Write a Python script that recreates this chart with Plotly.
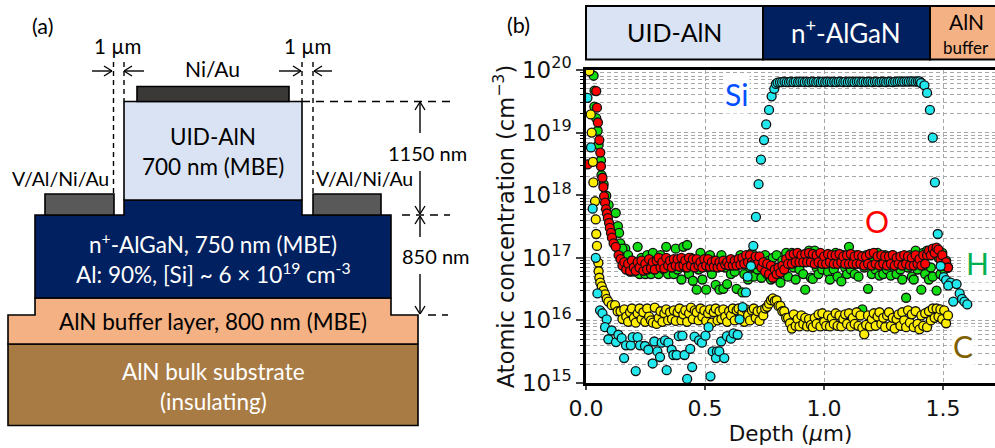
import plotly.graph_objects as go

# ---------- Data (depth in um, concentration in cm^-3) ----------
BAND_DEPTH = [
    0.145,0.153,0.161,0.169,0.177,0.185,0.193,0.201,0.209,0.217,
    0.225,0.233,0.241,0.249,0.257,0.265,0.273,0.281,0.289,0.297,
    0.305,0.313,0.321,0.329,0.337,0.345,0.353,0.361,0.369,0.377,
    0.385,0.393,0.401,0.409,0.417,0.425,0.433,0.441,0.449,0.457,
    0.465,0.473,0.481,0.489,0.497,0.505,0.513,0.521,0.529,0.537,
    0.545,0.553,0.561,0.569,0.577,0.585,0.593,0.601,0.609,0.617,
    0.625,0.633,0.641,0.649,0.657,0.665,0.673,0.681,0.689,0.697,
    0.705,0.713,0.721,0.729,0.737,0.745,0.753,0.761,0.769,0.777,
    0.785,0.793,0.801,0.809,0.817,0.825,0.833,0.841,0.849,0.857,
    0.865,0.873,0.881,0.889,0.897,0.905,0.913,0.921,0.929,0.937,
    0.945,0.953,0.961,0.969,0.977,0.985,0.993,1.001,1.009,1.017,
    1.025,1.033,1.041,1.049,1.057,1.065,1.073,1.081,1.089,1.097,
    1.105,1.113,1.121,1.129,1.137,1.145,1.153,1.161,1.169,1.177,
    1.185,1.193,1.201,1.209,1.217,1.225,1.233,1.241,1.249,1.257,
    1.265,1.273,1.281,1.289,1.297,1.305,1.313,1.321,1.329,1.337,
    1.345,1.353,1.361,1.369,1.377,1.385,1.393,1.401,1.409,1.417,
    1.425,1.433,1.441,1.449,1.457,1.465,1.473,1.481,1.489,1.497,
    1.505,1.513,1.521,
]

O_EARLY_DEPTH = [0.007,0.043,0.046,0.050,0.056,0.060,0.063,0.069,0.073,0.076,0.080,0.084,0.088,0.092,0.097,0.100,0.105,0.109,0.116,0.125,0.137]
O_EARLY = [3.1e18,4.6e19,2.5e19,1.45e19,7.6e18,4.8e18,2.9e18,1.9e18,1.35e18,9.6e17,7.6e17,6e17,5.1e17,4.3e17,3.6e17,3e17,2.5e17,2.1e17,1.7e17,1.5e17,1.1e17]
O_BAND_E16 = [
    9.5,7.5,8.5,6.5,8,6.2,9,7,6.2,8.5,
    7,9,6.2,8,6.5,9.5,6.8,8.5,6.5,9,
    10,7,8.5,6.8,10,7.5,9,7,9.5,7.5,
    9.5,7.2,10,7.5,9,7,10,7.5,9.5,7,
    9.5,7.5,8.5,7,9.5,7.5,9.5,7.2,8.5,7.2,
    9,7,8.5,7.2,9,7.8,8.5,7.5,9.5,7.5,
    9,7.5,9.5,7.8,10,8,11,8.5,11,8.5,
    8,10.5,8,10.5,7,8.5,6,8,5.5,7.5,
    4.8,6.5,5.5,7,5.8,7.5,6.5,9.5,8,11,
    8,11.5,8.5,12,8.5,11,8.5,11.5,8.5,12,
    8.5,11.5,8,11,8.5,12,8,10.5,8,11.5,
    8.5,11,8,11,8,11.5,8.5,10.5,8,11,
    8,11.5,8,10.5,8,11,8,10.5,7.5,10.5,
    8,11.5,7.5,12,8,10.5,7.5,11,8,10.5,
    7.5,10.5,8,11,7.5,10,8,10.5,7.5,11,
    8,10.5,7.5,10,7.5,11,8,9.5,7.5,11,
    8,11,13,11,14,12,14.5,13.5,9.5,11,
    7.5,8.5,7,
]

H_EARLY_DEPTH = [0.032,0.036,0.035,0.043,0.049,0.053,0.063,0.065,0.074,0.085,0.095,0.125,0.134,0.139,0.144,0.165,0.172]
H_EARLY = [8.1e19,4.7e19,2.6e19,1.7e19,1.07e19,6.4e18,3.6e18,2.1e18,1.5e18,9.8e17,7e17,5.2e17,3.2e17,2.5e17,1.7e17,1.4e17,1.05e17]
H_BAND_E16 = [
    12,14,9,7,11,6,9,6,8,15,
    5.5,10,7,5.5,11,8,5.5,12,6.5,9,
    5.5,11,7,6.5,15,5.5,9,8,5.5,14,
    6.5,9,4.5,15,7,16,5.5,10,4.3,8,
    3.1,6.5,12,4.5,9,3.1,7,11,5.5,9,
    3.7,8,3.1,11,3.2,7,3.8,9,5.5,8,
    6,3.2,8,11,2.8,5.5,9,4.5,7,12,
    5,9,6.5,10,4.8,7,11,5.5,9,4.5,
    10,7,11,5.5,4,9,6,12,5,9,
    12,7,4.5,10,6.5,11,5.5,3.1,9,13,
    4.8,4.6,13,7,5.5,10,6.5,11,8,6,
    4.5,10,6.5,12,5,9,4.2,11,7,5.5,
    15,6.5,10,5.5,11,5,9,1.5,7,11,
    3.2,8,5.5,10,6.5,12,5.2,9,5.5,11,
    6.5,9,5.2,11,7,5.5,10,6.5,4.5,9,
    2.3,7,11,5,4.5,13,6.5,9,3.1,12,
    5.5,13,4.5,7,5,13,3,10,5.5,12,
    6.5,9,7,
]

C_EARLY_DEPTH = [0.014,0.020,0.024,0.029,0.031,0.038,0.041,0.043,0.046,0.052,0.053,0.056,0.060,0.066,0.073,0.080,0.087,0.094,0.108,0.122,0.133]
C_EARLY = [9.6e19,1.95e19,1e19,3.4e18,1.6e18,8e17,4.1e17,2.4e17,1.55e17,8.3e16,6.1e16,4.8e16,4e16,3.5e16,3e16,2.6e16,2.2e16,2e16,1.75e16,1.75e16,1.4e16]
C_BAND_E16 = [
    1.4,1.05,1.5,1.15,0.95,1.35,1.55,1.1,0.92,1.3,
    1.55,1.05,1.35,0.95,1.55,1.15,1.0,0.92,1.6,0.88,
    1.1,1.4,0.95,1.3,1.5,1.0,1.35,1.05,1.45,0.98,
    1.35,1.55,1.0,1.25,1.45,0.95,1.3,1.6,1.05,1.45,
    1.35,1.0,1.55,1.15,1.45,0.98,1.3,1.5,0.92,1.35,
    1.55,1.0,1.4,1.05,1.5,1.15,0.95,1.4,1.2,1.55,
    1.0,1.45,1.55,1.1,1.35,0.95,1.5,1.2,1.0,1.45,
    1.55,1.1,1.4,0.98,1.45,1.2,1.55,1.65,1.85,2.1,
    2.25,2.05,2.1,1.7,1.7,1.4,1.4,1.1,1.1,0.9,
    0.74,1.25,0.82,1.05,0.8,1.2,0.88,1.1,0.8,1.05,
    0.85,0.78,1.1,0.88,1.25,0.8,1.3,0.95,0.82,1.2,
    0.8,1.1,0.88,1.3,0.82,1.2,0.8,1.05,1.25,0.88,
    1.3,0.8,1.1,0.88,1.35,0.82,1.2,0.76,0.6,0.85,
    1.2,0.8,1.05,1.3,0.82,1.15,1.35,0.88,1.1,0.78,
    1.2,1.35,0.82,1.1,0.74,1.05,1.25,0.82,1.35,1.0,
    0.78,1.45,0.92,1.25,0.78,1.4,0.88,0.72,1.2,0.82,
    1.3,0.78,1.4,1.0,1.55,1.1,1.55,1.15,1.5,1.05,
    1.45,0.9,1.2,
]

SI_DEPTH = [
    0.006,0.021,0.028,0.041,0.048,0.059,0.069,0.087,0.080,0.108,0.094,0.126,0.136,0.150,0.160,0.168,0.188,0.196,0.217,0.209,
    0.227,0.248,0.262,0.280,0.287,0.300,0.311,0.318,0.332,0.339,0.346,0.360,0.367,0.381,0.390,0.405,0.414,0.438,0.425,0.446,
    0.456,0.475,0.487,0.502,0.515,0.523,0.532,0.550,0.546,0.560,0.568,0.581,0.592,0.609,0.620,0.637,0.645,0.658,0.672,0.679,
    0.693,0.703,0.714,0.725,0.735,0.748,0.757,0.769,0.780,0.791,0.798,
    0.805,0.815,0.824,0.834,0.843,0.853,0.862,0.872,0.881,0.891,0.900,0.910,0.919,0.929,0.938,0.948,0.957,0.967,0.976,0.986,
    0.995,1.005,1.014,1.024,1.033,1.043,1.052,1.062,1.071,1.081,1.090,1.100,1.109,1.119,1.128,1.138,1.147,1.157,1.166,1.176,
    1.185,1.195,1.204,1.214,1.223,1.233,1.242,1.252,1.261,1.271,1.280,1.290,1.299,1.309,1.318,1.328,1.337,1.347,1.356,1.366,
    1.375,1.385,1.394,1.402,1.408,1.422,1.433,1.445,1.457,1.466,1.478,1.490,1.503,1.513,1.532,1.522,1.557,1.570,1.543,1.580,1.590,1.602,
]
SI_CONC = [
    3.6e19,5.8e18,6.1e17,1e17,2.7e16,1.45e16,1.3e16,1.04e16,7.8e15,6.9e15,5e15,4.5e15,5.9e15,5.2e15,2.5e15,4e15,4e15,5.4e15,5.4e15,1.55e15,
    4e15,3.9e15,3.4e15,2.05e15,4.6e15,3.2e15,2.6e15,4.4e15,4.8e15,1.6e15,4.4e15,3.4e15,2.8e15,2.8e15,5.6e15,5.7e15,2.8e15,3.5e15,1.16e15,1.8e15,
    5.5e15,4.8e15,4.4e15,5.7e15,7.8e15,1.28e15,3.2e15,3.2e15,2.5e15,3.2e15,4.6e15,2.5e15,5.6e15,5.1e15,6.2e15,5.9e15,1.04e16,1.63e16,2.8e16,5e16,
    7.4e16,1.55e17,4.5e17,1.5e18,3.7e18,7.6e18,1.35e19,2.3e19,3.8e19,5e19,6e19,
    6.3e19,6.4e19,6.4e19,6.5e19,6.4e19,6.4e19,6.5e19,6.4e19,6.5e19,6.4e19,6.5e19,6.5e19,6.4e19,6.5e19,6.4e19,6.5e19,6.5e19,6.4e19,6.5e19,6.4e19,
    6.5e19,6.4e19,6.5e19,6.5e19,6.4e19,6.5e19,6.4e19,6.5e19,6.5e19,6.4e19,6.5e19,6.4e19,6.5e19,6.5e19,6.4e19,6.5e19,6.5e19,6.4e19,6.5e19,6.4e19,
    6.5e19,6.5e19,6.4e19,6.5e19,6.5e19,6.4e19,6.5e19,6.5e19,6.4e19,6.5e19,6.5e19,6.4e19,6.5e19,6.5e19,6.6e19,6.5e19,6.5e19,6.6e19,6.5e19,6.6e19,
    6.6e19,6.5e19,6.6e19,6.6e19,6.2e19,5.7e19,4.3e19,2.3e19,8.3e18,1.6e18,2.4e17,7.4e16,4.9e16,4.4e16,4e16,3.6e16,3.8e16,2.7e16,2e16,2.2e16,2e16,1.8e16,
]

Y_TICKS = [1e15,1e16,1e17,1e18,1e19,1e20]
Y_TICK_LABELS = ["10<sup>15</sup>","10<sup>16</sup>","10<sup>17</sup>","10<sup>18</sup>","10<sup>19</sup>","10<sup>20</sup>"]
Y_MINOR = [m*d for d in [1e15,1e16,1e17,1e18,1e19] for m in [2,3,4,5,6,7,8,9]]
X_TICKS = [0.0,0.5,1.0,1.5]
X_TICK_LABELS = ["0.0","0.5","1.0","1.5"]

W, H = 995, 448
AX_L, AX_R, AX_T, AX_B = 586, 995, 70, 383
PX_PER_UM = 238.0

DIAG_FONT = "Lato"
CHART_FONT = "DejaVu Sans"

def px(x): return x / W
def py(y): return 1 - y / H

fig = go.Figure()

def add_series(name, xs, ys, color):
    fig.add_trace(go.Scatter(x=xs, y=ys, mode="markers", name=name, showlegend=False,
                             marker=dict(size=9, color=color, line=dict(color="#111111", width=1.3)),
                             cliponaxis=True))

add_series("H", H_EARLY_DEPTH + BAND_DEPTH, H_EARLY + [v*1e16 for v in H_BAND_E16], "#12dc12")
add_series("O", O_EARLY_DEPTH + BAND_DEPTH, O_EARLY + [v*1e16 for v in O_BAND_E16], "#ff0000")
add_series("C", C_EARLY_DEPTH + BAND_DEPTH, C_EARLY + [v*1e16 for v in C_BAND_E16], "#ffee00")
add_series("Si", SI_DEPTH, SI_CONC, "#22e8ee")

shapes = []
annotations = []

def rect(x0, y0, x1, y1, fill, lw=1.6):
    shapes.append(dict(type="rect", xref="paper", yref="paper", x0=px(x0), x1=px(x1), y0=py(y0), y1=py(y1),
                       fillcolor=fill, line=dict(color="black", width=lw), layer="above"))

def poly(pts, fill, lw=1.6):
    path = "M " + " L ".join(f"{px(a):.5f},{py(b):.5f}" for a, b in pts) + " Z"
    shapes.append(dict(type="path", xref="paper", yref="paper", path=path, fillcolor=fill,
                       line=dict(color="black", width=lw), layer="above"))

def line(x0, y0, x1, y1, dash="solid", lw=1.4):
    shapes.append(dict(type="line", xref="paper", yref="paper", x0=px(x0), x1=px(x1), y0=py(y0), y1=py(y1),
                       line=dict(color="black", width=lw, dash=dash), layer="above"))

def arrow(x0, y0, x1, y1):
    line(x0, y0, x1, y1)
    if x0 == x1:
        s = 1 if y1 > y0 else -1
        line(x1 - 5, y1 - s*8, x1, y1)
        line(x1 + 5, y1 - s*8, x1, y1)
    else:
        s = 1 if x1 > x0 else -1
        line(x1 - s*8, y1 - 5, x1, y1)
        line(x1 - s*8, y1 + 5, x1, y1)

def text(x, y, s, size=17, color="black", family=DIAG_FONT, bg=None):
    a = dict(xref="paper", yref="paper", x=px(x), y=py(y), text=s, showarrow=False, xanchor="center",
             yanchor="middle", font=dict(size=size, color=color, family=family))
    if bg:
        a["bgcolor"] = bg
    annotations.append(a)

# panel (a): layer stack
rect(8, 344, 418, 425.5, "#a97b44")
poly([(35,298),(391,298),(391,315),(418,315),(418,344),(8,344),(8,315),(35,315)], "#f4b183")
poly([(124,200),(302,200),(302,215),(391,215),(391,298),(35,298),(35,215),(124,215)], "#002060")
rect(124, 101.5, 302, 200, "#dae3f3")
rect(137, 86.5, 289, 101.5, "#3b3838")
rect(45, 194, 114, 215, "#595959")
rect(313, 194, 381, 215, "#595959")

for x_, y1_ in [(113.5,194),(124,101),(302,101),(313,194)]:
    line(x_, 62, x_, y1_, dash="5px,4px")
line(302, 101.5, 453, 101.5, dash="8px,6px")
line(402, 215, 450, 215, dash="8px,6px")
line(428, 315, 448, 315, dash="8px,6px")

arrow(92, 71, 112, 71); arrow(144, 71, 124, 71)
arrow(279, 71, 301, 71); arrow(332, 71, 314, 71)
arrow(420, 133, 420, 102); arrow(420, 171, 420, 214)
arrow(420, 237, 420, 216); arrow(420, 274, 420, 314)

text(42, 26, "(a)", 21.5)
text(117, 46, "1 µm", 20.5); text(307, 46, "1 µm", 20.5)
text(212, 68, "Ni/Au", 21)
text(213, 136, "UID-AlN", 22.5); text(213, 166, "700 nm (MBE)", 22.5)
text(427, 153, "1150 nm", 20)
text(60, 178, "V/Al/Ni/Au", 19.5); text(364, 178, "V/Al/Ni/Au", 19.5)
text(436, 256, "850 nm", 20)
text(213, 243, "n<sup>+</sup>-AlGaN, 750 nm (MBE)", 22.5, "white")
text(213, 273, "Al: 90%, [Si] ~ 6 × 10<sup>19</sup> cm<sup>-3</sup>", 22.5, "white")
text(213, 321, "AlN buffer layer, 800 nm (MBE)", 22.5)
text(213, 371, "AlN bulk substrate", 22.5, "white")
text(213, 401, "(insulating)", 22.5, "white")

# panel (b): layer strip and labels
rect(586, 6, 763, 59.5, "#dae3f3", 2)
rect(763, 6, 930, 59.5, "#002060", 2)
rect(930, 6, 997, 59.5, "#f4b183", 2)
text(518, 25, "(b)", 21.5)
text(674, 32, "UID-AlN", 25)
text(846, 32, "n<sup>+</sup>-AlGaN", 26, "white")
text(966, 21, "AlN", 21)
text(966, 48, "buffer", 17)
text(736, 94, "Si", 30, "#0050ff", bg="white")
text(877, 221, "O", 30, "#ff0000", bg="white")
text(977, 263, "H", 30, "#00b050", bg="white")
text(963, 346, "C", 30, "#7f6000", bg="white")

GRID = "#a8a8a8"
fig.update_layout(
    width=W, height=H, margin=dict(l=0, r=0, t=0, b=0), autosize=False,
    paper_bgcolor="white", plot_bgcolor="white", showlegend=False,
    shapes=shapes, annotations=annotations,
    font=dict(family=CHART_FONT, size=20, color="#111111"),
    xaxis=dict(domain=[px(AX_L), 1], range=[0, (AX_R - AX_L) / PX_PER_UM], tickmode="array",
               tickvals=X_TICKS, ticktext=X_TICK_LABELS, ticks="outside", ticklen=4, tickwidth=2,
               showline=True, linecolor="black", linewidth=2.5, mirror=True, showgrid=True,
               gridcolor=GRID, griddash="4px,3px", gridwidth=1.2, zeroline=False, automargin=False,
               title=dict(text="Depth (<i>µ</i>m)", font=dict(size=21.5), standoff=2),
               tickfont=dict(size=22)),
    yaxis=dict(domain=[py(AX_B), py(AX_T)], type="log", range=[15, 20], tickmode="array",
               tickvals=Y_TICKS, ticktext=Y_TICK_LABELS, ticks="outside", ticklen=7, tickwidth=2,
               showline=True, linecolor="black", linewidth=2.5, showgrid=True, gridcolor=GRID,
               griddash="4px,3px", gridwidth=1.2, zeroline=False, automargin=False,
               minor=dict(tickmode="array", tickvals=Y_MINOR, ticks="outside", ticklen=3, tickwidth=1,
                          tickcolor="black", showgrid=True, gridcolor=GRID, griddash="4px,3px", gridwidth=1.2),
               title=dict(text="Atomic concentration (cm<sup>−3</sup>)", font=dict(size=22.5), standoff=2),
               tickfont=dict(size=23)),
)

fig.write_html("out.html", config={"displayModeBar": False},
               post_script="document.body.style.margin='0';document.documentElement.style.overflow='hidden';")
